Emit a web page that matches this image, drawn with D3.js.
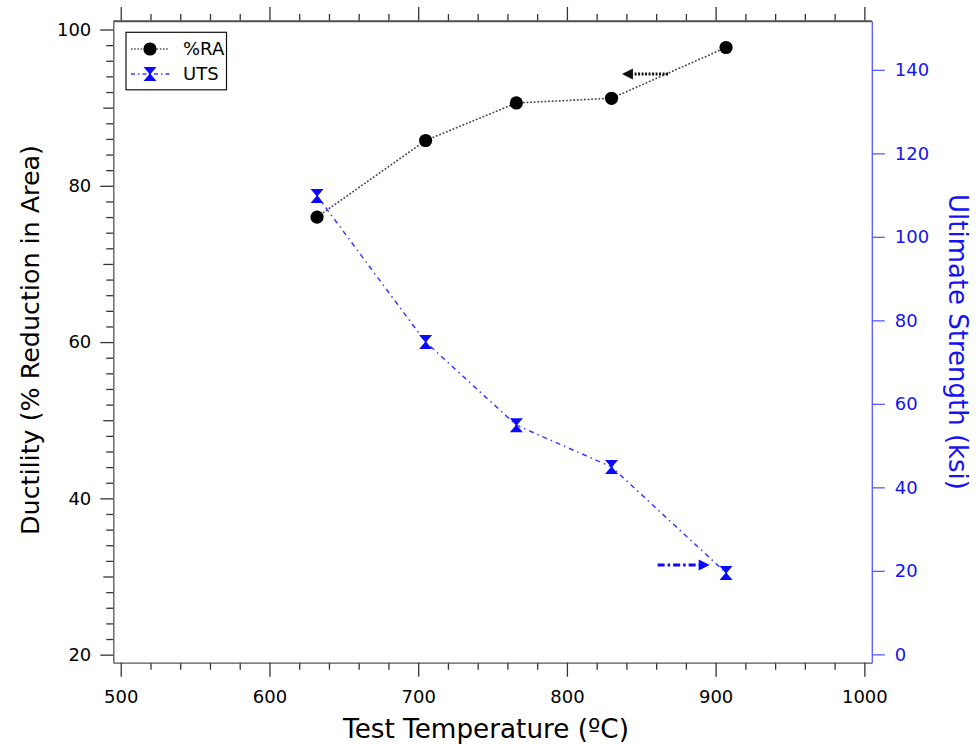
<!DOCTYPE html>
<html><head><meta charset="utf-8">
<script src="https://cdn.jsdelivr.net/npm/d3@7"></script>
<style>
body{margin:0;background:#fff}
text{font-family:"DejaVu Sans","Lato",sans-serif}
</style>
</head><body>
<svg id="c" width="976" height="744"></svg>
<script>
// ---- data ----
const temps = [632, 705, 766, 830, 907];
const reductionArea = [76.0, 85.8, 90.6, 91.2, 97.7];
const uts = [109.8, 74.8, 54.9, 44.9, 19.5];
const seriesNames = ["%RA", "UTS"];
const xMajorTicks = [500, 600, 700, 800, 900, 1000];
const leftMajorTicks = [20, 40, 60, 80, 100];
const rightTicks = [0, 20, 40, 60, 80, 100, 120, 140];
const xTitle = "Test Temperature (ºC)";
const leftTitle = "Ductility (% Reduction in Area)";
const rightTitle = "Ultimate Strength (ksi)";
// annotation arrows (data coordinates)
const arrowRAx = [868, 837];
const arrowRAy = 94.3;
const arrowUTSx = [861, 896];
const arrowUTSy = 21.4;

// ---- layout ----
const svg = d3.select("#c");
const L = 113.3, R = 871.8, T = 21, B = 662.7;
const frameCol = "#555", tickCol = "#333";
const blueLine = "#5a5aff", blueText = "#1414f0", blue = "#0a0aff";

const x = d3.scaleLinear().domain([495, 1005]).range([L, R]);
const yL = d3.scaleLinear().domain([18.97, 101.09]).range([B, T]);
const yR = d3.scaleLinear().domain([-2.0, 151.7]).range([B, T]);

function styleAxis(g, col, txtCol) {
  g.selectAll("path.domain").attr("stroke", col).attr("stroke-width", 1.3);
  g.selectAll(".tick line").attr("stroke", col).attr("stroke-width", 1.3);
  g.selectAll(".tick text").attr("fill", txtCol).style("font-size", "18px")
    .style("font-family", '"DejaVu Sans",sans-serif');
}

// bottom axis
const minorX = d3.range(500, 1001, 20).filter(v => !xMajorTicks.includes(v));
let g = svg.append("g").attr("transform", `translate(0,${B})`)
  .call(d3.axisBottom(x).tickValues(minorX).tickSize(7).tickFormat(""));
g.select(".domain").remove(); styleAxis(g, tickCol, "#000");
g = svg.append("g").attr("transform", `translate(0,${B})`)
  .call(d3.axisBottom(x).tickValues(xMajorTicks).tickSize(14).tickSizeOuter(0).tickPadding(14).tickFormat(d3.format("d")));
styleAxis(g, frameCol, "#000"); g.selectAll(".tick line").attr("stroke", tickCol);

// top axis (no labels)
g = svg.append("g").attr("transform", `translate(0,${T})`)
  .call(d3.axisTop(x).tickValues(minorX).tickSize(7).tickFormat(""));
g.select(".domain").remove(); styleAxis(g, tickCol, "#000");
g = svg.append("g").attr("transform", `translate(0,${T})`)
  .call(d3.axisTop(x).tickValues(xMajorTicks).tickSize(14).tickSizeOuter(0).tickFormat(""));
styleAxis(g, frameCol, "#000"); g.selectAll(".tick line").attr("stroke", tickCol);

// left axis
const minorL = d3.range(20, 101, 2).filter(v => v % 10 !== 0);
const midL = d3.range(30, 101, 20);
g = svg.append("g").attr("transform", `translate(${L},0)`)
  .call(d3.axisLeft(yL).tickValues(minorL).tickSize(7).tickFormat(""));
g.select(".domain").remove(); styleAxis(g, tickCol, "#000");
g = svg.append("g").attr("transform", `translate(${L},0)`)
  .call(d3.axisLeft(yL).tickValues(midL).tickSize(10).tickFormat(""));
g.select(".domain").remove(); styleAxis(g, tickCol, "#000");
g = svg.append("g").attr("transform", `translate(${L},0)`)
  .call(d3.axisLeft(yL).tickValues(leftMajorTicks).tickSize(13).tickSizeOuter(0).tickPadding(9).tickFormat(d3.format("d")));
styleAxis(g, frameCol, "#000"); g.selectAll(".tick line").attr("stroke", tickCol);

// right axis
g = svg.append("g").attr("transform", `translate(${R},0)`)
  .call(d3.axisRight(yR).tickValues(rightTicks).tickSize(13).tickSizeOuter(0).tickPadding(10).tickFormat(d3.format("d")));
styleAxis(g, blueLine, blueText);

// top frame line
svg.append("line").attr("x1", L).attr("x2", R).attr("y1", T).attr("y2", T)
  .attr("stroke", frameCol).attr("stroke-width", 1.3);

// ---- series ----
const raData = temps.map((t, i) => [t, reductionArea[i]]);
const utsData = temps.map((t, i) => [t, uts[i]]);

svg.append("path").datum(raData)
  .attr("d", d3.line().x(d => x(d[0])).y(d => yL(d[1])))
  .attr("fill", "none").attr("stroke", "#444").attr("stroke-width", 1.6)
  .attr("stroke-dasharray", "1.8,1.8");
svg.append("path").datum(utsData)
  .attr("d", d3.line().x(d => x(d[0])).y(d => yR(d[1])))
  .attr("fill", "none").attr("stroke", "#3a3aff").attr("stroke-width", 1.5)
  .attr("stroke-dasharray", "5,4,1.5,4");

const bowtie = "M-6.5,-7L6.5,-7L1,-0.5L1,0.5L6.5,7L-6.5,7L-1,0.5L-1,-0.5Z";

svg.append("g").selectAll("circle").data(raData).join("circle")
  .attr("cx", d => x(d[0])).attr("cy", d => yL(d[1])).attr("r", 6.6).attr("fill", "#000");
svg.append("g").selectAll("path").data(utsData).join("path")
  .attr("transform", d => `translate(${x(d[0])},${yR(d[1])})`)
  .attr("d", bowtie).attr("fill", blue);

// ---- arrows ----
function arrow(x0, x1, yy, col, dash) {
  const dir = Math.sign(x1 - x0);
  svg.append("line").attr("x1", x0).attr("x2", x1 - dir * 8).attr("y1", yy).attr("y2", yy)
    .attr("stroke", col).attr("stroke-width", 3).attr("stroke-dasharray", dash);
  svg.append("path")
    .attr("d", `M${x1},${yy}L${x1 - dir * 11},${yy - 5.5}L${x1 - dir * 11},${yy + 5.5}Z`)
    .attr("fill", col);
}
arrow(x(arrowRAx[0]), x(arrowRAx[1]), yL(arrowRAy), "#111", "2,1.5");
arrow(x(arrowUTSx[0]), x(arrowUTSx[1]), yR(arrowUTSy), blue, "7,3,2.5,3");

// ---- legend ----
const lg = svg.append("g");
lg.append("rect").attr("x", 126).attr("y", 32.3).attr("width", 100.5).attr("height", 57.5)
  .attr("fill", "#fff").attr("stroke", "#111").attr("stroke-width", 1.2);
const rowsY = [49, 74];
lg.append("line").attr("x1", 131).attr("x2", 169).attr("y1", rowsY[0]).attr("y2", rowsY[0])
  .attr("stroke", "#555").attr("stroke-width", 1.4).attr("stroke-dasharray", "1.6,1.6");
lg.append("circle").attr("cx", 150).attr("cy", rowsY[0]).attr("r", 6.6).attr("fill", "#000");
lg.append("line").attr("x1", 131).attr("x2", 171).attr("y1", rowsY[1]).attr("y2", rowsY[1])
  .attr("stroke", "#3a3aff").attr("stroke-width", 1.4).attr("stroke-dasharray", "4,3,1.5,3");
lg.append("path").attr("transform", `translate(150,${rowsY[1]})`).attr("d", bowtie).attr("fill", blue);
lg.selectAll("text.lab").data(seriesNames).join("text").attr("class", "lab")
  .attr("x", 183).attr("y", (d, i) => rowsY[i]).attr("dy", "0.36em")
  .style("font-size", "18px").attr("fill", "#000").text(d => d);

// ---- titles ----
function fitText(sel, target) {
  const len = sel.node().getComputedTextLength();
  const fs = parseFloat(sel.style("font-size"));
  sel.style("font-size", (fs * target / len).toFixed(2) + "px");
}
const tx = svg.append("text").attr("x", 486).attr("y", 738).attr("text-anchor", "middle")
  .style("font-size", "23px").attr("fill", "#000").text(xTitle);
fitText(tx, 286);
const tl = svg.append("text").attr("transform", "translate(39,340) rotate(-90)")
  .attr("text-anchor", "middle").style("font-size", "23px").attr("fill", "#000").text(leftTitle);
fitText(tl, 390);
const tr = svg.append("text").attr("transform", "translate(949,342) rotate(90)")
  .attr("text-anchor", "middle").style("font-size", "23px").attr("fill", blueText).text(rightTitle);
fitText(tr, 296);
</script>
</body></html>
